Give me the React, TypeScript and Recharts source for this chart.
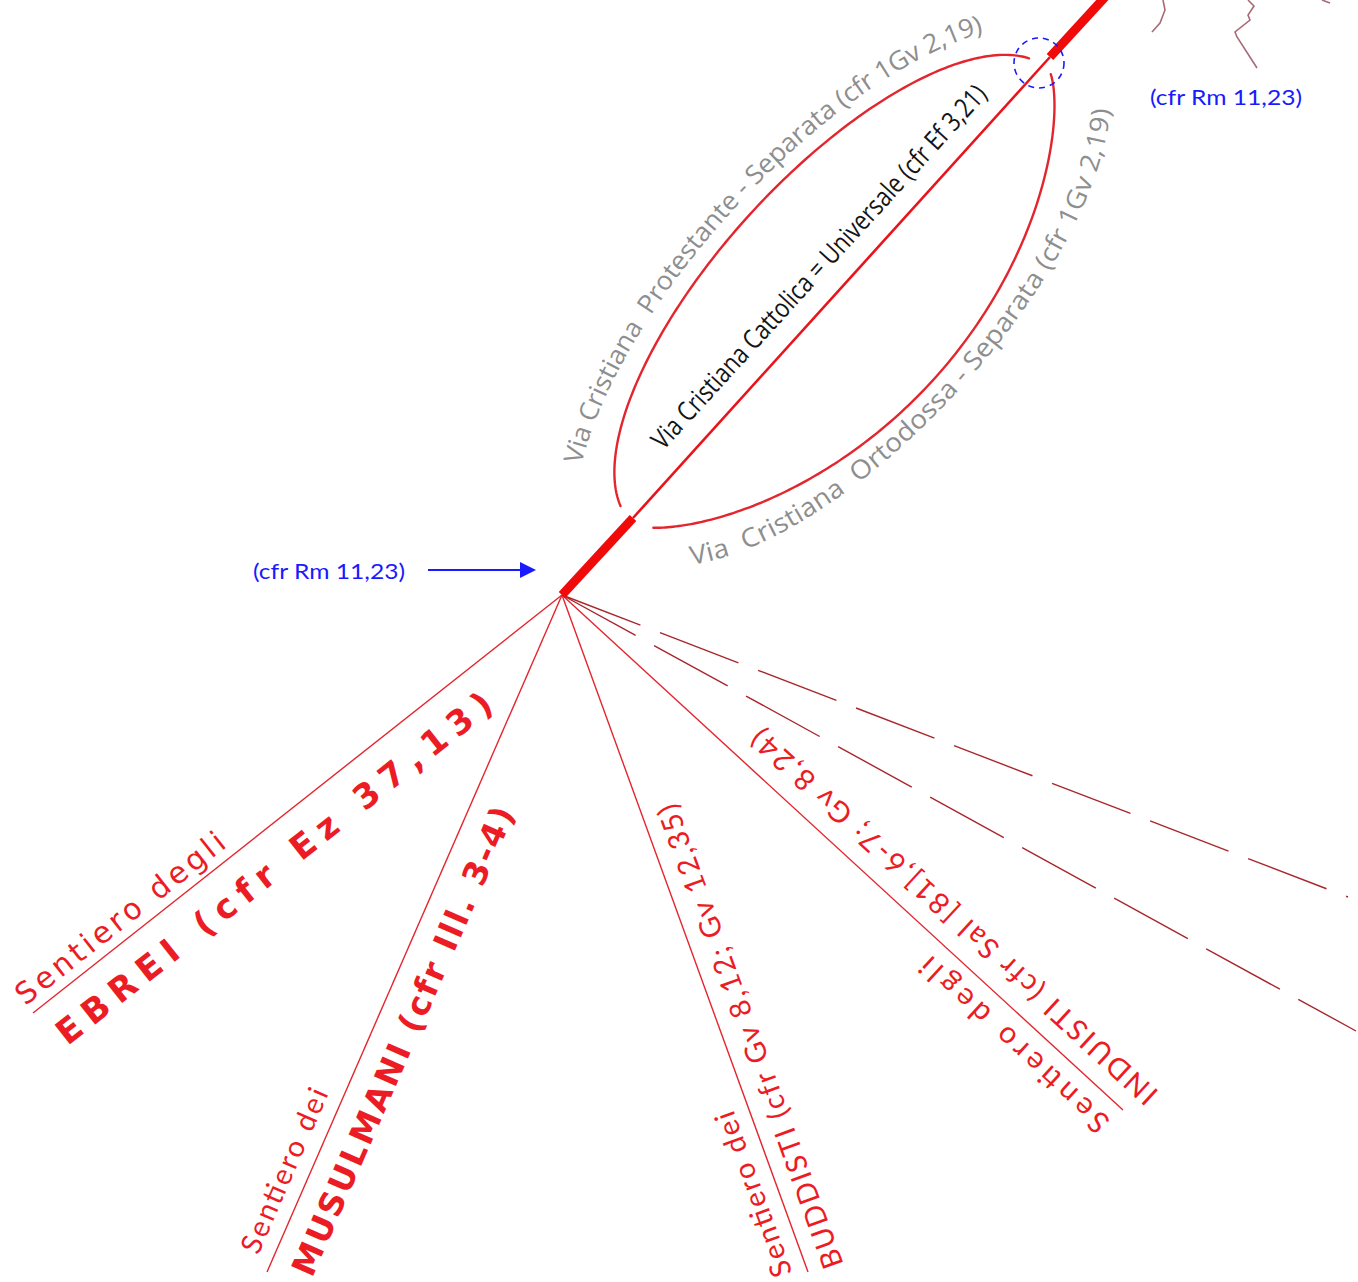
import React from 'react';
import { ComposedChart, XAxis, YAxis, Line, ReferenceLine, ReferenceDot } from 'recharts';

const WIDTH = 1358;
const HEIGHT = 1282;

// ---- data (picture coordinates used as the chart's data space) ----
const hub = { x: 562, y: 595 };
const trunkLower = [{ x: 562, y: 595 }, { x: 633, y: 518 }];
const trunkMiddle = [{ x: 633, y: 518 }, { x: 1050, y: 57 }];
const trunkUpper = [{ x: 1050, y: 57 }, { x: 1106, y: -4 }];

const branchEnds = [
  { key: 'ebrei', x: 33, y: 1013 },
  { key: 'musulmani', x: 267, y: 1272 },
  { key: 'buddisti', x: 808, y: 1272 },
  { key: 'induisti', x: 1123, y: 1110 },
];
const dashedEnds = [
  { key: 'altri1', x: 1348, y: 897 },
  { key: 'altri2', x: 1356, y: 1031 },
];

const ovalCenter = { x: 841, y: 297 };

const rootWave1 = [{ x: 1163, y: 0 }, { x: 1165, y: 10 }, { x: 1160, y: 23 }, { x: 1152, y: 32 }];
const rootWave2 = [
  { x: 1248, y: 0 }, { x: 1254, y: 6 }, { x: 1248, y: 15 }, { x: 1250, y: 20 },
  { x: 1235, y: 32 }, { x: 1237, y: 37 }, { x: 1257, y: 68 },
];
const rootWave3 = [{ x: 1322, y: 0 }, { x: 1330, y: 3 }];

// text anchors
const protestantTextCenter = { x: 835, y: 303 };
const orthodoxTextCenter = { x: 849, y: 288 };
const catholicTextCenter = { x: 818, y: 266 };
const markerCircle = { x: 1039, y: 63 };
const noteTop = { x: 1226, y: 96 };
const noteLeft = { x: 329, y: 570 };
const arrowLine = [{ x: 428, y: 570 }, { x: 521, y: 570 }];
const arrowTip = { x: 536, y: 570 };

const textProtestant = 'Via Cristiana  Protestante - Separata (cfr 1Gv 2,19)';
const textOrthodox = 'Via  Cristiana  Ortodossa - Separata (cfr 1Gv 2,19)';
const textCatholic = 'Via Cristiana Cattolica = Universale (cfr Ef 3,21)';
const textNote = '(cfr Rm 11,23)';

const branchLabels = [
  { text: 'Sentiero degli', x: 120, y: 918 },
  { text: 'EBREI (cfr Ez 37,13)', x: 274, y: 868 },
  { text: 'Sentiero dei', x: 283, y: 1170 },
  { text: 'MUSULMANI (cfr Ill. 3-4)', x: 403, y: 1041 },
  { text: 'Sentiero dei', x: 752, y: 1195 },
  { text: 'BUDDISTI (cfr Gv 8,12; Gv 12,35)', x: 749, y: 1037 },
  { text: 'INDUISTI (cfr Sal [81],6-7; Gv 8,24)', x: 953, y: 918 },
  { text: 'Sentiero degli', x: 1013, y: 1046 },
];

// ---- styles ----
const RED = '#ec1c24';
const LINE_RED = '#e3262e';
const DASH_RED = '#a8262c';
const GRAY = '#8e8e8e';
const BLUE = '#1a1aff';
const TRUNK_ANGLE = -47.62;

const labelStyles = [
  { angle: -38.3, len: 258, size: 30, weight: 400, family: '"DejaVu Sans", Verdana, sans-serif' },
  { angle: -38.3, len: 545, size: 34, weight: 700, family: '"DejaVu Sans", Verdana, sans-serif' },
  { angle: -66.45, len: 177, size: 29, weight: 400, family: 'Lato, "Open Sans", sans-serif' },
  { angle: -66.45, len: 508, size: 33, weight: 700, family: '"DejaVu Sans", Verdana, sans-serif' },
  { angle: -109.97, len: 174, size: 29, weight: 400, family: 'Lato, "Open Sans", sans-serif' },
  { angle: -109.97, len: 492, size: 29, weight: 400, family: 'Lato, "Open Sans", sans-serif' },
  { angle: -137.45, len: 540, size: 29, weight: 400, family: 'Lato, "Open Sans", sans-serif' },
  { angle: -137.45, len: 245, size: 30, weight: 400, family: 'Lato, "Open Sans", sans-serif' },
];

const deg = Math.PI / 180;

function frame() {
  const r = TRUNK_ANGLE * deg;
  const ux = Math.cos(r), uy = Math.sin(r);
  return { ux, uy, nx: -uy, ny: ux };
}

function ellipsePoints(cx: number, cy: number, a: number, b: number, p1: number, p2: number, power = 1) {
  const { ux, uy, nx, ny } = frame();
  const pts: [number, number][] = [];
  const steps = 160;
  for (let i = 0; i <= steps; i++) {
    const p = p1 + ((p2 - p1) * i) / steps;
    const s = Math.sin(p);
    const ca = a * Math.cos(p);
    const sb = b * Math.sign(s) * Math.pow(Math.abs(s), power);
    pts.push([cx + ca * ux + sb * nx, cy + ca * uy + sb * ny]);
  }
  let len = 0;
  for (let i = 1; i < pts.length; i++) len += Math.hypot(pts[i][0] - pts[i - 1][0], pts[i][1] - pts[i - 1][1]);
  const d = 'M' + pts.map((q) => q[0].toFixed(2) + ',' + q[1].toFixed(2)).join(' L');
  return { d, len };
}

const OvalShape = (props: any) => {
  const { cx, cy } = props;
  if (cx == null || cy == null) return <g />;
  const left = ellipsePoints(cx, cy, 308, 123, -2.962, -0.18, 1);
  const right = ellipsePoints(cx, cy, 308, 124, 0.114, 2.873, 1.5);
  return (
    <g>
      <path d={left.d} fill="none" stroke={LINE_RED} strokeWidth={2.4} strokeLinecap="round" />
      <path d={right.d} fill="none" stroke={LINE_RED} strokeWidth={2.4} strokeLinecap="round" />
    </g>
  );
};

const ArcText = (id: string, text: string, a: number, b: number, p1: number, p2: number) => (props: any) => {
  const { cx, cy } = props;
  if (cx == null || cy == null) return <g />;
  const { d, len } = ellipsePoints(cx, cy, a, b, p1, p2, 1);
  return (
    <g>
      <defs>
        <path id={id} d={d} fill="none" />
      </defs>
      <text
        fill={GRAY}
        fontFamily='"Open Sans", Lato, sans-serif'
        fontSize={26}
        dominantBaseline="central"
        style={{ whiteSpace: 'pre' }}
      >
        <textPath href={'#' + id} startOffset={0} textLength={len} lengthAdjust="spacingAndGlyphs">
          {text}
        </textPath>
      </text>
    </g>
  );
};

const RotText = (text: string, st: any, fill: string, adjust = 'spacing') => (props: any) => {
  const { cx, cy } = props;
  if (cx == null || cy == null) return <g />;
  return (
    <text
      x={cx}
      y={cy}
      fill={fill}
      fontFamily={st.family}
      fontSize={st.size}
      fontWeight={st.weight}
      textAnchor="middle"
      dominantBaseline="central"
      textLength={st.len}
      lengthAdjust={adjust}
      transform={`rotate(${st.angle}, ${cx}, ${cy})`}
    >
      {text}
    </text>
  );
};

const NoteText = (props: any) => {
  const { cx, cy } = props;
  if (cx == null || cy == null) return <g />;
  return (
    <text
      x={cx}
      y={cy}
      fill={BLUE}
      fontFamily='Lato, "Open Sans", sans-serif'
      fontSize={22}
      textAnchor="middle"
      dominantBaseline="central"
      textLength={152}
      lengthAdjust="spacingAndGlyphs"
    >
      {textNote}
    </text>
  );
};

const ArrowHead = (props: any) => {
  const { cx, cy } = props;
  if (cx == null || cy == null) return <g />;
  return <polygon points={`${cx},${cy} ${cx - 16},${cy - 8} ${cx - 16},${cy + 8}`} fill={BLUE} />;
};

const DashedCircle = (props: any) => {
  const { cx, cy } = props;
  if (cx == null || cy == null) return <g />;
  return <circle cx={cx} cy={cy} r={25} fill="none" stroke={BLUE} strokeWidth={1.6} strokeDasharray="6 5" />;
};

export default function App() {
  return (
    <div style={{ position: 'absolute', left: 0, top: 0, background: '#fff' }}>
      <ComposedChart width={WIDTH} height={HEIGHT} margin={{ top: 0, right: 0, bottom: 0, left: 0 }}>
        <XAxis type="number" dataKey="x" domain={[0, WIDTH]} allowDataOverflow hide />
        <YAxis type="number" dataKey="y" domain={[0, HEIGHT]} allowDataOverflow reversed hide />

        {/* root fragments */}
        {[rootWave1, rootWave2, rootWave3].map((w, i) => (
          <Line key={'w' + i} data={w} dataKey="y" type="linear" stroke="#a86a78" strokeWidth={1.6}
            dot={false} activeDot={false} isAnimationActive={false} />
        ))}

        {/* fan of paths */}
        {branchEnds.map((e) => (
          <ReferenceLine key={e.key} segment={[hub, { x: e.x, y: e.y }]} stroke={LINE_RED} strokeWidth={1.4} ifOverflow="visible" />
        ))}
        {dashedEnds.map((e) => (
          <ReferenceLine key={e.key} segment={[hub, { x: e.x, y: e.y }]} stroke={DASH_RED} strokeWidth={1.4}
            strokeDasharray="84 21" ifOverflow="visible" />
        ))}

        {/* trunk */}
        <ReferenceLine segment={trunkMiddle} stroke="#e8141c" strokeWidth={2.6} ifOverflow="visible" />
        <ReferenceLine segment={trunkLower} stroke="#f00a0a" strokeWidth={9} ifOverflow="visible" />
        <ReferenceLine segment={trunkUpper} stroke="#f00a0a" strokeWidth={9} ifOverflow="visible" />

        {/* oval (two separated churches) */}
        <ReferenceDot x={ovalCenter.x} y={ovalCenter.y} r={0} ifOverflow="visible" shape={OvalShape} />

        {/* arrow */}
        <ReferenceLine segment={arrowLine} stroke={BLUE} strokeWidth={2} ifOverflow="visible" />
        <ReferenceDot x={arrowTip.x} y={arrowTip.y} r={0} ifOverflow="visible" shape={ArrowHead} />
        <ReferenceDot x={markerCircle.x} y={markerCircle.y} r={25} ifOverflow="visible" shape={DashedCircle} />

        {/* curved labels */}
        <ReferenceDot x={protestantTextCenter.x} y={protestantTextCenter.y} r={0} ifOverflow="visible"
          shape={ArcText('pathProt', textProtestant, 365, 148, -2.512, -0.581)} />
        <ReferenceDot x={orthodoxTextCenter.x} y={orthodoxTextCenter.y} r={0} ifOverflow="visible"
          shape={ArcText('pathOrt', textOrthodox, 340, 140, 2.681, 0.478)} />

        <ReferenceDot x={catholicTextCenter.x} y={catholicTextCenter.y} r={0} ifOverflow="visible"
          shape={RotText(textCatholic, { angle: TRUNK_ANGLE, len: 482, size: 27, weight: 400,
            family: '"Liberation Sans Narrow", "Open Sans", sans-serif' }, '#141414', 'spacingAndGlyphs')} />

        {branchLabels.map((l, i) => (
          <ReferenceDot key={'bl' + i} x={l.x} y={l.y} r={0} ifOverflow="visible"
            shape={RotText(l.text, labelStyles[i], RED)} />
        ))}

        <ReferenceDot x={noteTop.x} y={noteTop.y} r={0} ifOverflow="visible" shape={NoteText} />
        <ReferenceDot x={noteLeft.x} y={noteLeft.y} r={0} ifOverflow="visible" shape={NoteText} />
      </ComposedChart>
    </div>
  );
}
